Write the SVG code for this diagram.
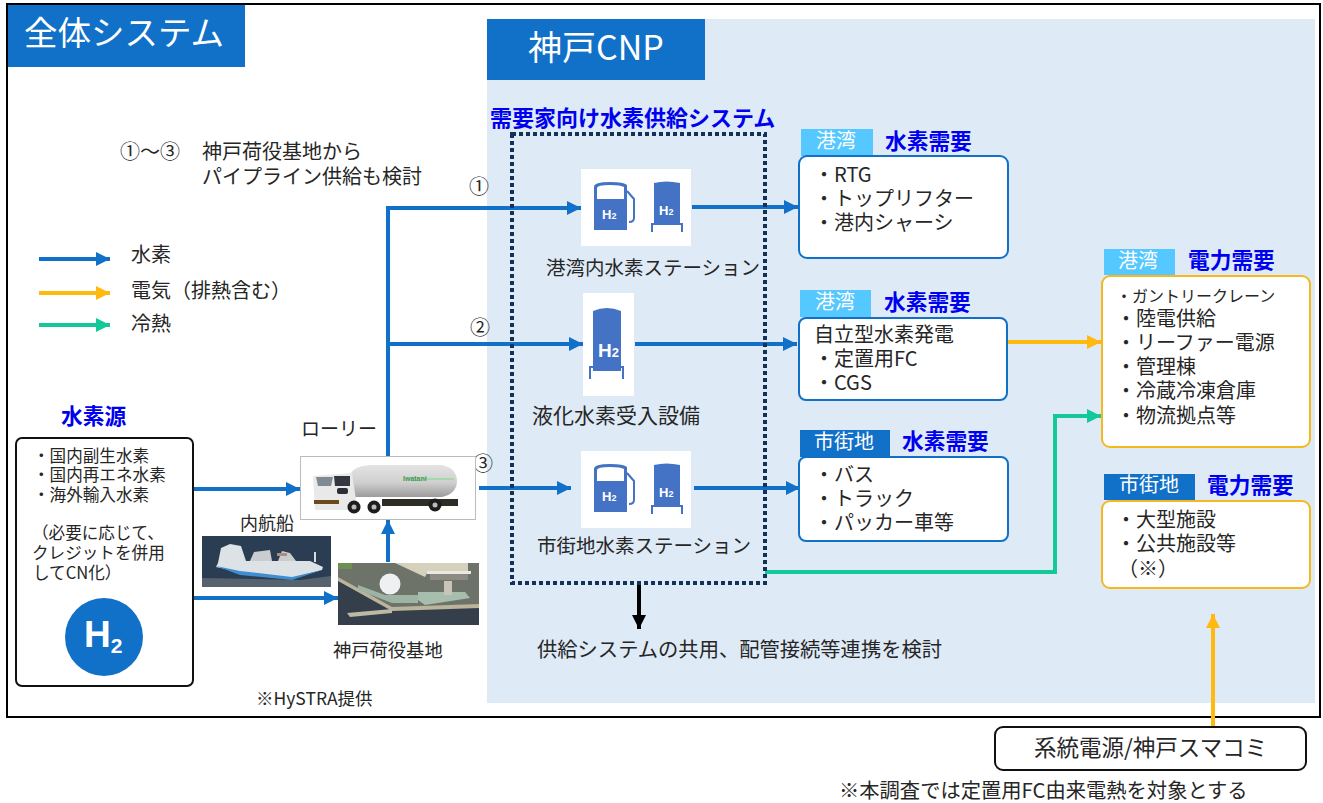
<svg xmlns="http://www.w3.org/2000/svg" width="1323" height="803" viewBox="0 0 1323 803">
<style>
text{font-family:"Noto Sans CJK JP","Noto Sans",sans-serif;fill:#262626;font-size:20px}
.b{fill:#0000f0;font-weight:700;font-size:21.700px}
.w{fill:#fff}
.s{font-size:16.600px}
.tag{fill:#fff;font-size:20px}
.c{fill:none;stroke-width:4}
.h{stroke:#1170c8}.e{stroke:#ffb90f}.k{stroke:#13c997}
.box{fill:#fff;stroke:#1170c8;stroke-width:2}
.ybox{fill:#fff;stroke:#f5b81f;stroke-width:2}
.tank{fill:#4472c4}
.ic{fill:#fff}
.leg{fill:none;stroke:#4472c4;stroke-width:2}
.h2{fill:#fff;font-weight:700;font-family:"Liberation Sans",sans-serif}
</style>
<defs>
<marker id="ah" markerUnits="userSpaceOnUse" markerWidth="16" markerHeight="16" refX="14" refY="7" orient="auto"><path d="M0 0L14 7L0 14Z" fill="#1170c8"/></marker>
<marker id="ae" markerUnits="userSpaceOnUse" markerWidth="16" markerHeight="16" refX="14" refY="7" orient="auto"><path d="M0 0L14 7L0 14Z" fill="#ffb90f"/></marker>
<marker id="ak" markerUnits="userSpaceOnUse" markerWidth="16" markerHeight="16" refX="14" refY="7" orient="auto"><path d="M0 0L14 7L0 14Z" fill="#13c997"/></marker>
<marker id="ab" markerUnits="userSpaceOnUse" markerWidth="16" markerHeight="16" refX="14" refY="7" orient="auto"><path d="M0 0L14 7L0 14Z" fill="#000"/></marker>
<linearGradient id="tg" x1="0" y1="0" x2="0" y2="1"><stop offset="0" stop-color="#e4e4e4"/><stop offset="0.55" stop-color="#cfcfcf"/><stop offset="1" stop-color="#9c9c9c"/></linearGradient>
<g id="pump"><path class="tank" d="M0 5Q0 0 16 0Q30 0 33 3V48H0Z"/><path class="ic" d="M3 6Q3 3 16 3Q27 3 30 5V17H3Z"/><path d="M33 9L40 17V36Q40 40 35 40" fill="none" stroke="#4472c4" stroke-width="2"/><text class="h2" x="8" y="37" style="font-size:13px">H<tspan style="font-size:9px">2</tspan></text></g>
<g id="tk"><path class="tank" d="M2 2Q14 -1 28 2V44H2Z"/><path class="leg" d="M0 51V43H30V51"/><text class="h2" x="7" y="34" style="font-size:13px">H<tspan style="font-size:9px">2</tspan></text></g>
</defs>
<rect x="0" y="0" width="1323" height="803" fill="#fff"/>
<rect x="7" y="4" width="1313" height="713" fill="#fff" stroke="#000" stroke-width="2"/>
<rect x="487" y="19" width="828" height="684" fill="#deeaf6"/>
<g id="title-all"><rect x="8" y="5" width="237" height="62" fill="#1170c8"/><text class="w" x="24" y="45" style="font-size:33.500px">全体システム</text></g>
<g id="title-cnp"><rect x="487" y="19" width="218" height="61" fill="#1170c8"/><text class="w" x="528" y="60" style="font-size:34px">神戸CNP</text></g>

<g id="notes">
<text x="120" y="159">①～③</text><text x="202" y="159">神戸荷役基地から</text>
<text x="202" y="184">パイプライン供給も検討</text>
<text x="301" y="436" style="font-size:19px">ローリー</text>
<text x="240" y="530" style="font-size:18px">内航船</text>
<text x="333" y="657" style="font-size:18.300px">神戸荷役基地</text>
<text x="256" y="705" style="font-size:17.500px">※HySTRA提供</text>
<text x="537" y="657" style="font-size:20.300px">供給システムの共用、配管接続等連携を検討</text>
<text x="839" y="798" style="font-size:20.300px">※本調査では定置用FC由来電熱を対象とする</text>
<text x="469" y="194">①</text><text x="470" y="335">②</text><text x="473" y="471">③</text>
<text x="546" y="275" style="font-size:19.500px">港湾内水素ステーション</text>
<text x="532" y="423" style="font-size:21px">液化水素受入設備</text>
<text x="537" y="553" style="font-size:19.500px">市街地水素ステーション</text>
<text class="b" x="490" y="126" style="font-size:22px">需要家向け水素供給システム</text>
</g>

<g id="legend">
<text x="131" y="262">水素</text><text x="131" y="298">電気（排熱含む）</text><text x="131" y="331">冷熱</text>
<path class="c h" d="M39 259H110" marker-end="url(#ah)"/>
<path class="c e" d="M39 293H110" marker-end="url(#ae)"/>
<path class="c k" d="M39 325H110" marker-end="url(#ak)"/>
</g>

<g id="connectors">
<path class="c h" d="M193 489H300" marker-end="url(#ah)"/>
<path class="c h" d="M193 598H338" marker-end="url(#ah)"/>
<path class="c h" d="M388 456V208H581" marker-end="url(#ah)"/>
<path class="c h" d="M388 344H583" marker-end="url(#ah)"/>
<path class="c h" d="M388 562V520" marker-end="url(#ah)"/>
<path class="c h" d="M479 488H571" marker-end="url(#ah)"/>
<path class="c h" d="M692 207H798" marker-end="url(#ah)"/>
<path class="c h" d="M635 344H797" marker-end="url(#ah)"/>
<path class="c h" d="M694 488H800" marker-end="url(#ah)"/>
<path class="c e" d="M1007 342H1101" marker-end="url(#ae)"/>
<path class="c k" d="M765 572H1055V416H1101" marker-end="url(#ak)"/>
<path class="c e" d="M1213 727V614" marker-end="url(#ae)"/>
<path d="M639 584V629" fill="none" stroke="#000" stroke-width="4" marker-end="url(#ab)"/>
</g>

<rect x="512" y="134" width="253" height="449" fill="none" stroke="#12325a" stroke-width="4" stroke-dasharray="4 3"/>

<g id="source">
<text class="b" x="61" y="424">水素源</text>
<rect x="16" y="438" width="177" height="248" rx="6" fill="#fff" stroke="#111" stroke-width="2"/>
<text x="33" y="462" class="s">・国内副生水素</text><text x="33" y="481" class="s">・国内再エネ水素</text><text x="33" y="501" class="s">・海外輸入水素</text>
<text x="32" y="539" class="s">（必要に応じて、</text><text x="32" y="559" class="s">クレジットを併用</text><text x="33" y="579" class="s">してCN化）</text>
<circle cx="104" cy="637" r="39" fill="#1170c8"/>
<text class="h2" x="84" y="647" style="font-size:37px">H<tspan style="font-size:21px" dy="6">2</tspan></text>
</g>

<g id="truck">
<rect x="300.500" y="456.500" width="175" height="63" fill="#fff" stroke="#bbb" stroke-width="1"/>
<path d="M350 474Q354 466 370 465H442Q457 468 457 482Q456 494 442 497H350Z" fill="url(#tg)"/>
<path d="M313 476L352 473L356 500L352 510H315Z" fill="#e9e9ea"/>
<path d="M316 477H333L331 486H318Z" fill="#7f8a92"/><path d="M334 476H350V486H335Z" fill="#34373d"/>
<rect x="337" y="488" width="11" height="6" rx="2" fill="#2b2e35"/>
<rect x="314" y="500" width="25" height="4" fill="#6d4a1e"/>
<rect x="382" y="499" width="76" height="7" fill="#2e2c26"/>
<circle cx="354" cy="507" r="6.500" fill="#1d1d1d"/><circle cx="374" cy="507" r="6.500" fill="#1d1d1d"/><circle cx="435" cy="505" r="6.500" fill="#1d1d1d"/>
<circle cx="354" cy="507" r="2.500" fill="#bbb"/><circle cx="374" cy="507" r="2.500" fill="#bbb"/><circle cx="435" cy="505" r="2.500" fill="#bbb"/>
<rect x="422" y="478" width="32" height="2" fill="#a6d8ae"/>
<text x="403" y="481" style="font-size:7px;fill:#3a9a4c;font-weight:700;font-family:'Liberation Sans',sans-serif">Iwatani</text>
</g>
<g id="ship">
<rect x="202" y="536" width="129" height="51" fill="#2b3d52"/>
<path d="M202 578L300 580L331 576V587H202Z" fill="#56626e"/>
<path d="M218 563L221 548L230 544L241 546L246 561L310 561L323 567L322 570L292 578L240 572L216 567Z" fill="#dde2e6"/>
<path d="M250 561L254 552L270 550L272 561ZM278 561L282 551L290 553L296 561Z" fill="#c9cdd0"/>
<rect x="314" y="552" width="2" height="10" fill="#d8dcdf"/><rect x="277" y="553" width="10" height="3" fill="#b08a85"/>
<path d="M216 566L240 571L292 577L322 570L292 580L240 575Z" fill="#3f8fd0"/>
</g>
<g id="terminal">
<rect x="338" y="563" width="141" height="62" fill="#343f4b"/>
<path d="M338 563H479V606L392 609L338 577Z" fill="#6e7369"/>
<path d="M395 563H468V571H428L425 577Z" fill="#d6d1bc"/>
<rect x="427" y="571" width="44" height="3" fill="#e9e9e2"/><rect x="430" y="574" width="38" height="6" fill="#8c8c84"/>
<rect x="338" y="563" width="14" height="6" fill="#6f8f52"/>
<path d="M338 577L392 607L479 604V608L392 611L338 581Z" fill="#b9b49a"/>
<path d="M358 585L385 595H418V603H392L358 590Z" fill="#9db3a3"/><path d="M418 592H465L470 598L425 605L418 600Z" fill="#a7bdae"/>
<path d="M347 613L392 609V613L350 617Z" fill="#bdbaa4"/>
<circle cx="390" cy="584" r="10.500" fill="#eef0f1"/>
<rect x="444" y="581" width="8" height="14" fill="#c9c5b6"/>
</g>

<g id="station1"><rect x="581" y="169" width="110" height="77" fill="#fff"/><use href="#pump" x="594" y="182"/><use href="#tk" x="652" y="181"/></g>
<g id="station2"><rect x="583" y="293" width="51" height="103" fill="#fff"/><path class="tank" d="M593 311Q607 305 621 311V371H593Z"/><path class="leg" d="M590 379V367H623V379"/><text class="h2" x="598" y="357" style="font-size:19px">H<tspan style="font-size:13px">2</tspan></text></g>
<g id="station3"><rect x="581" y="451" width="110" height="77" fill="#fff"/><use href="#pump" x="594" y="464"/><use href="#tk" x="652" y="463"/></g>

<g id="demand1">
<rect x="801" y="129" width="72" height="27" fill="#55c8ff"/><text class="tag" x="816" y="148">港湾</text>
<text class="b" x="885" y="149">水素需要</text>
<rect class="box" x="799" y="156" width="209" height="102" rx="8"/>
<text x="814" y="182">・RTG</text><text x="814" y="206">・トップリフター</text><text x="814" y="230">・港内シャーシ</text>
</g>
<g id="demand2">
<rect x="800" y="290" width="71" height="27" fill="#55c8ff"/><text class="tag" x="815" y="309">港湾</text>
<text class="b" x="884" y="310">水素需要</text>
<rect class="box" x="799" y="318" width="208" height="82" rx="7"/>
<text x="814" y="342">自立型水素発電</text><text x="814" y="366">・定置用FC</text><text x="814" y="390">・CGS</text>
</g>
<g id="demand3">
<rect x="800" y="430" width="90" height="27" fill="#1170c8"/><text class="tag" x="814" y="449">市街地</text>
<text class="b" x="902" y="449">水素需要</text>
<rect class="box" x="799" y="457" width="209" height="84" rx="7"/>
<text x="814" y="482">・バス</text><text x="814" y="506">・トラック</text><text x="814" y="530">・パッカー車等</text>
</g>
<g id="power1">
<rect x="1104" y="249" width="71" height="26" fill="#55c8ff"/><text class="tag" x="1118" y="268">港湾</text>
<text class="b" x="1188" y="268">電力需要</text>
<rect class="ybox" x="1102" y="276" width="208" height="171" rx="8"/>
<text x="1116" y="302" style="font-size:16px">・ガントリークレーン</text><text x="1116" y="326">・陸電供給</text><text x="1116" y="350">・リーファー電源</text><text x="1116" y="374">・管理棟</text><text x="1116" y="398">・冷蔵冷凍倉庫</text><text x="1116" y="423">・物流拠点等</text>
</g>
<g id="power2">
<rect x="1104" y="474" width="91" height="26" fill="#1170c8"/><text class="tag" x="1119" y="492">市街地</text>
<text class="b" x="1207" y="493">電力需要</text>
<rect class="ybox" x="1102" y="501" width="208" height="87" rx="8"/>
<text x="1116" y="527">・大型施設</text><text x="1116" y="551">・公共施設等</text><text x="1118" y="576">（※）</text>
</g>
<g id="grid">
<rect x="995" y="727" width="311" height="43" rx="8" fill="#fff" stroke="#111" stroke-width="2"/>
<text x="1034" y="756" style="font-size:22.500px">系統電源/神戸スマコミ</text>
</g>
</svg>
